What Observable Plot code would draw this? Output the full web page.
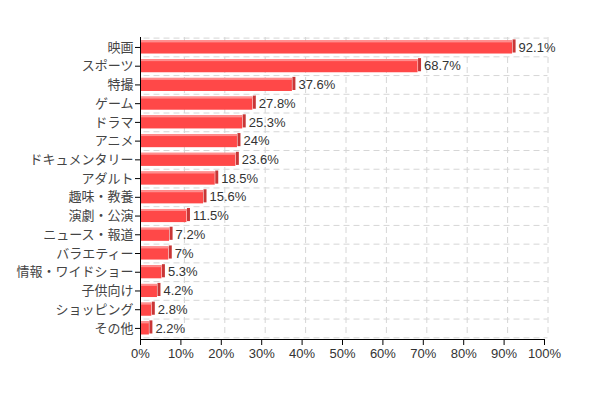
<!DOCTYPE html>
<html><head><meta charset="utf-8">
<script src="https://cdn.jsdelivr.net/npm/d3@7"></script>
<script src="https://cdn.jsdelivr.net/npm/@observablehq/plot@0.6"></script>
<style>body{margin:0;background:#fff;}</style>
</head><body><div id="chart"></div>
<script>
const categories = ["映画","スポーツ","特撮","ゲーム","ドラマ","アニメ","ドキュメンタリー","アダルト","趣味・教養","演劇・公演","ニュース・報道","バラエティー","情報・ワイドショー","子供向け","ショッピング","その他"];
const values = [92.1,68.7,37.6,27.8,25.3,24,23.6,18.5,15.6,11.5,7.2,7,5.3,4.2,2.8,2.2];
const xTicks = [0,10,20,30,40,50,60,70,80,90,100];

const data = categories.map((c, i) => ({category: c, value: values[i]}));
const yRange = [37.6, 337.3];
const padIn = 0.3;
const step = (yRange[1] - yRange[0]) / categories.length;
const bw = step * (1 - padIn);
const font = "'Liberation Sans', 'Noto Sans CJK JP', sans-serif";

const chart = Plot.plot({
  width: 598, height: 398,
  marginLeft: 140, marginRight: 54, marginTop: 37, marginBottom: 59,
  style: {fontFamily: font, fontSize: "13px", color: "#333", background: "#fff"},
  x: {domain: [0, 100], label: null},
  y: {domain: categories, range: yRange, paddingInner: padIn, paddingOuter: padIn / 2, round: false, label: null},
  marks: [
    Plot.ruleX(xTicks.slice(1), {stroke: "#d6d6d6", strokeDasharray: "6,4", dx: 3.5, insetBottom: 2}),
    Plot.ruleY(categories, {stroke: "#d6d6d6", strokeDasharray: "6,4", dy: -step / 2, dx: 3.5}),
    Plot.ruleY([categories[categories.length - 1]], {stroke: "#d6d6d6", strokeDasharray: "6,4", dy: step / 2, dx: 3.5}),
    Plot.barX(data, {x: "value", y: "category", fill: "#ff4848"}),
    Plot.barX(data, {x: "value", y: "category", fill: "#ff8e8e", insetBottom: bw - 2}),
    Plot.tickX(data, {x: "value", y: "category", stroke: "#c93636", strokeWidth: 3, dx: 1.5, insetTop: -1, insetBottom: 1}),
    Plot.text(data, {x: "value", y: "category", text: d => d.value + "%", textAnchor: "start", dx: 6, fill: "#333", fontSize: 13}),
    Plot.axisX({anchor: "bottom", ticks: xTicks, tickFormat: d => d + "%", tickSize: 6, tickPadding: 3, stroke: "#000", fill: "#333", fontSize: 13, label: null}),
    Plot.axisY({anchor: "left", tickSize: 5, tickPadding: 2, stroke: "#000", fill: "#444", fontSize: 13, label: null}),
    Plot.frame({anchor: "bottom", stroke: "#000"}),
    Plot.frame({anchor: "left", stroke: "#000"})
  ]
});
document.getElementById("chart").appendChild(chart);
</script>
</body></html>
